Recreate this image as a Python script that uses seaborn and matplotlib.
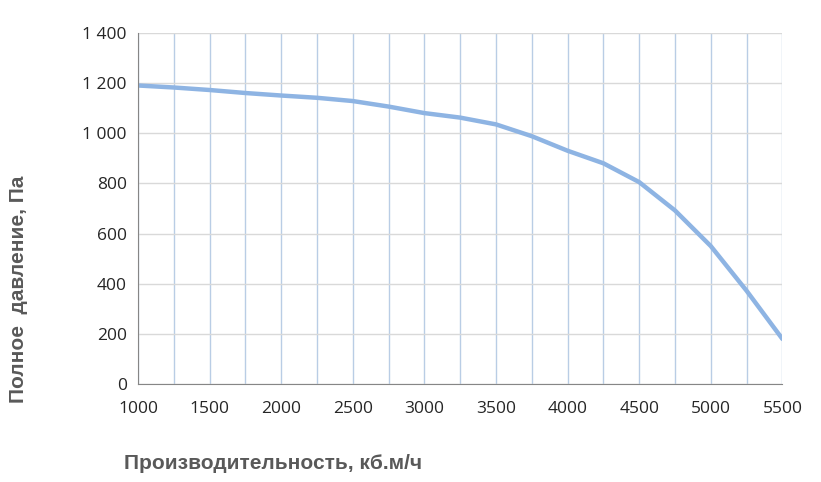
import matplotlib
matplotlib.use("Agg")
import matplotlib.pyplot as plt
import seaborn as sns
import pandas as pd
from matplotlib.ticker import FuncFormatter, MultipleLocator

flow = [1000, 1250, 1500, 1750, 2000, 2250, 2500, 2750, 3000, 3250, 3500,
        3750, 4000, 4250, 4500, 4750, 5000, 5250, 5500]
pressure = [1190, 1182, 1172, 1160, 1150, 1141, 1128, 1106, 1080, 1062, 1035,
            988, 930, 880, 805, 692, 550, 372, 180]

df = pd.DataFrame({"flow": flow, "pressure": pressure})

sns.set_style("white")
plt.rcParams["font.family"] = ["Open Sans", "DejaVu Sans"]

fig, ax = plt.subplots(figsize=(8.21, 4.82), dpi=100)
fig.subplots_adjust(left=0.168, right=0.953, top=0.932, bottom=0.203)

sns.lineplot(data=df, x="flow", y="pressure", ax=ax, color="#8eb4e3",
             linewidth=3.2)

ax.set_xlim(1000, 5500)
ax.set_ylim(0, 1400)
ax.xaxis.set_major_locator(MultipleLocator(500))
ax.xaxis.set_minor_locator(MultipleLocator(250))
ax.yaxis.set_major_locator(MultipleLocator(200))
ax.yaxis.set_major_formatter(FuncFormatter(lambda v, p: f"{int(v):,}".replace(",", " ")))

ax.grid(True, which="both", axis="x", color="#b9cde5", linewidth=1)
ax.grid(True, which="major", axis="y", color="#d9d9d9", linewidth=1)
ax.set_axisbelow(True)
for s in ["top", "right"]:
    ax.spines[s].set_visible(False)
for s in ["left", "bottom"]:
    ax.spines[s].set_color("#868686")
ax.tick_params(axis="x", which="both", direction="in", length=5, color="#868686",
               labelsize=12.5, pad=12)
ax.tick_params(axis="y", length=0, labelsize=12.5, pad=8)

lab = dict(fontsize=15, fontweight="bold", color="#595959",
           family=["Liberation Sans", "DejaVu Sans"])
ax.set_xlabel("Производительность, кб.м/ч", **lab)
ax.set_ylabel("Полное  давление, Па", **lab)
ax.xaxis.set_label_coords(0.21, -0.2)
ax.yaxis.set_label_coords(-0.17, 0.27)

fig.savefig("out.png", dpi=100)
